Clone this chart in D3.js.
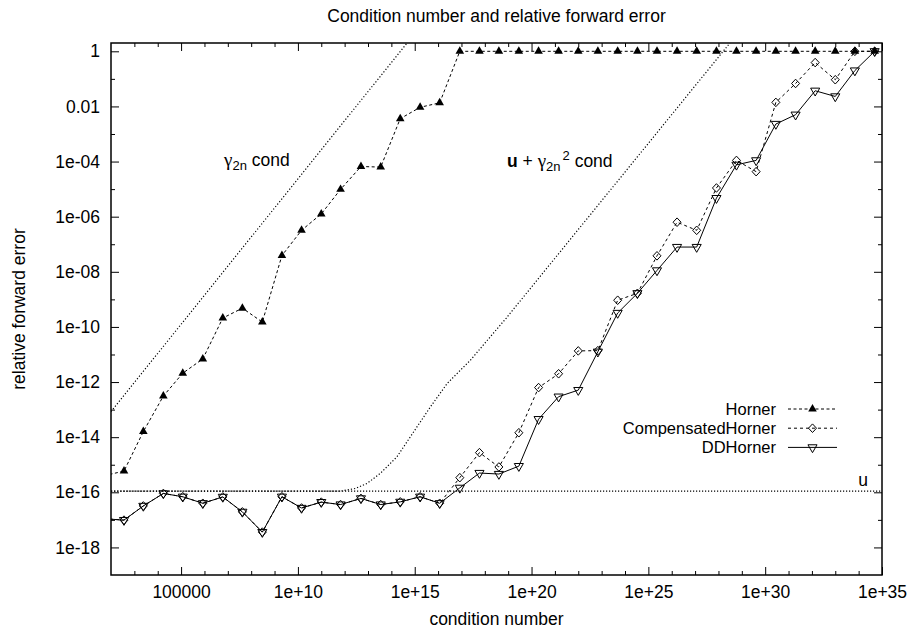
<!DOCTYPE html>
<html>
<head>
<meta charset="utf-8">
<script src="https://cdn.jsdelivr.net/npm/d3@7"></script>
<style>
  body { margin: 0; background: #fff; }
  svg { display: block; font-family: "Liberation Sans", Arial, Helvetica, sans-serif; }
</style>
</head>
<body>
<div id="chart"></div>
<script>
// condition numbers of the test polynomials (first one lies left of the plot range)
const cond = [
  5.1e1, 3.6e2, 2.42e3, 1.74e4, 1.18e5, 8.5e5, 6.1e6, 4.2e7, 3.0e8, 2.07e9,
  1.43e10, 1.0e11, 6.7e11, 5.0e12, 3.5e13, 2.4e14, 1.7e15, 1.17e16, 8.5e16, 5.9e17,
  4.0e18, 2.86e19, 2.0e20, 1.44e21, 1.0e22, 6.9e22, 4.85e23, 3.4e24, 2.34e25, 1.69e26,
  1.17e27, 8.2e27, 5.9e28, 4.1e29, 2.86e30, 2.0e31, 1.38e32, 1.0e33, 6.9e33, 4.85e34
];

const horner = [
  4.0e-16, 5.9e-16, 1.6e-14, 3.1e-13, 2.1e-12, 6.9e-12, 2.1e-10, 4.8e-10, 1.5e-10, 3.9e-8,
  3.2e-7, 1.26e-6, 9.8e-6, 6.6e-5, 6.3e-5, 3.6e-3, 9.3e-3, 1.35e-2, 1, 1,
  1, 1, 1, 1, 1, 1, 1, 1, 1, 1,
  1, 1, 1, 1, 1, 1, 1, 1, 1, 1
];

const compHorner = [
  1.1e-17, 9.8e-18, 3.2e-17, 9.1e-17, 6.9e-17, 4.0e-17, 6.8e-17, 1.95e-17, 3.6e-18, 6.9e-17,
  2.7e-17, 4.4e-17, 3.6e-17, 6.0e-17, 3.6e-17, 4.5e-17, 6.9e-17, 4.0e-17, 3.4e-16, 2.75e-15,
  8.3e-16, 1.45e-14, 6.3e-13, 2.0e-12, 1.35e-11, 1.38e-11, 9.3e-10, 1.66e-9, 3.8e-8, 6.3e-7,
  3.2e-7, 1.1e-5, 1.1e-4, 4.3e-5, 1.4e-2, 6.8e-2, 0.39, 9.3e-2, 1, 1
];

const ddHorner = [
  1.1e-17, 9.8e-18, 3.2e-17, 9.1e-17, 6.9e-17, 4.0e-17, 6.8e-17, 1.95e-17, 3.6e-18, 6.9e-17,
  2.7e-17, 4.4e-17, 3.6e-17, 6.0e-17, 3.6e-17, 4.5e-17, 6.9e-17, 4.0e-17, 1.45e-16, 5.0e-16,
  4.6e-16, 8.9e-16, 4.5e-14, 2.95e-13, 5.1e-13, 1.26e-11, 3.2e-10, 1.66e-9, 1.12e-8, 7.9e-8,
  7.9e-8, 4.7e-6, 7.6e-5, 1.1e-4, 2.3e-3, 5.0e-3, 3.7e-2, 2.3e-2, 0.2, 1
];

// a priori bounds as [cond, error] pairs
const gammaBound = [[1e2, 8.5e-14], [4.7e14, 2]];
const uGammaBound = [
  [1e2, 1.1e-16], [6.5e11, 1.1e-16], [2.9e12, 1.38e-16], [9.1e12, 2.1e-16], [3.4e13, 4.9e-16],
  [1.74e14, 1.95e-15], [9.1e14, 1.58e-14], [4.7e15, 1.26e-13], [2.45e16, 8.9e-13],
  [2.45e17, 6.3e-12], [8.3e18, 2.1e-10], [3.1e28, 2]
];
const unitRoundoff = 1.1e-16;

const xMajorTicks = [1e5, 1e10, 1e15, 1e20, 1e25, 1e30, 1e35];
const xTickLabels = ['100000', '1e+10', '1e+15', '1e+20', '1e+25', '1e+30', '1e+35'];
const yMajorTicks = [1, 1e-2, 1e-4, 1e-6, 1e-8, 1e-10, 1e-12, 1e-14, 1e-16, 1e-18];
const yTickLabels = ['1', '0.01', '1e-04', '1e-06', '1e-08', '1e-10', '1e-12', '1e-14', '1e-16', '1e-18'];

const width = 914, height = 633;
const margin = { top: 43, right: 32, bottom: 58, left: 111 };
const iw = width - margin.left - margin.right;
const ih = height - margin.top - margin.bottom;
const fontSize = 17.5;
const symbolFont = '"Liberation Serif", "Times New Roman", serif';

const svg = d3.select('#chart').append('svg')
  .attr('width', width)
  .attr('height', height)
  .style('font-size', fontSize + 'px');

const g = svg.append('g').attr('transform', `translate(${margin.left},${margin.top})`);

const x = d3.scaleLog().domain([1e2, 1e35]).range([0, iw]);
const y = d3.scaleLog().domain([1e-19, 2]).range([ih, 0]);

// minor ticks: every decade on x, odd decades on y
const xMinorTicks = d3.range(3, 35).filter(e => e % 5 !== 0).map(e => Math.pow(10, e));
const yMinorTicks = d3.range(-17, 0, 2).map(e => Math.pow(10, e));

const major = 8, minor = 4;

function addAxis(axisFn, scale, transform, values, size, labels, padding) {
  const ax = axisFn(scale)
    .tickValues(values)
    .tickSize(-size)
    .tickPadding(padding || 0)
    .tickFormat(labels ? (d, i) => labels[i] : '');
  const sel = g.append('g').attr('transform', transform).call(ax);
  sel.select('.domain').remove();
  sel.selectAll('.tick line').attr('stroke', '#000');
  sel.selectAll('.tick text')
    .attr('fill', '#000')
    .style('font-size', fontSize + 'px')
    .style('font-family', '"Liberation Sans", Arial, Helvetica, sans-serif');
  return sel;
}

addAxis(d3.axisBottom, x, `translate(0,${ih})`, xMajorTicks, major, xTickLabels, 11);
addAxis(d3.axisBottom, x, `translate(0,${ih})`, xMinorTicks, minor);
addAxis(d3.axisTop, x, 'translate(0,0)', xMajorTicks, major);
addAxis(d3.axisTop, x, 'translate(0,0)', xMinorTicks, minor);
addAxis(d3.axisLeft, y, 'translate(0,0)', yMajorTicks, major, yTickLabels, 11);
addAxis(d3.axisLeft, y, 'translate(0,0)', yMinorTicks, minor);
addAxis(d3.axisRight, y, `translate(${iw},0)`, yMajorTicks, major);
addAxis(d3.axisRight, y, `translate(${iw},0)`, yMinorTicks, minor);

svg.append('defs').append('clipPath').attr('id', 'plot-clip')
  .append('rect').attr('width', iw).attr('height', ih);

const plot = g.append('g').attr('clip-path', 'url(#plot-clip)');

const line = d3.line().x(d => x(d[0])).y(d => y(d[1]));

// bounds and unit roundoff
plot.append('path')
  .datum([[1e2, unitRoundoff], [1e35, unitRoundoff]])
  .attr('d', line)
  .attr('fill', 'none').attr('stroke', '#000').attr('stroke-width', 1.1).attr('stroke-dasharray', '1.2,1.8');
[gammaBound, uGammaBound].forEach(b => {
  plot.append('path')
    .datum(b)
    .attr('d', line)
    .attr('fill', 'none').attr('stroke', '#000').attr('stroke-width', 1.2).attr('stroke-dasharray', '1.2,2');
});

// marker shapes
const triUp = d3.symbol().type(d3.symbolTriangle).size(32);
const diamond = 'M0,-4.3L4,0L0,4.3L-4,0Z';
const triDown = d3.symbol().type(d3.symbolTriangle).size(36);

const series = [
  { name: 'Horner', values: horner, dash: '3,2.5', marker: 'triUp' },
  { name: 'CompensatedHorner', values: compHorner, dash: '3,3', marker: 'diamond' },
  { name: 'DDHorner', values: ddHorner, dash: null, marker: 'triDown' }
];

function drawMarker(sel, kind) {
  if (kind === 'triUp') {
    sel.append('path').attr('d', triUp()).attr('fill', '#000');
  } else if (kind === 'diamond') {
    sel.append('path').attr('d', diamond).attr('fill', 'none').attr('stroke', '#000');
  } else {
    sel.append('path').attr('d', triDown()).attr('transform', 'rotate(180)')
      .attr('fill', 'none').attr('stroke', '#000');
  }
}

series.forEach(s => {
  const pts = d3.zip(cond, s.values);
  plot.append('path')
    .datum(pts)
    .attr('d', line)
    .attr('fill', 'none')
    .attr('stroke', '#000')
    .attr('stroke-dasharray', s.dash);
  plot.selectAll(null)
    .data(pts)
    .join('g')
    .attr('transform', d => `translate(${x(d[0])},${y(d[1])})`)
    .each(function () { drawMarker(d3.select(this), s.marker); });
});

// border
g.append('rect')
  .attr('width', iw).attr('height', ih)
  .attr('fill', 'none').attr('stroke', '#000').attr('stroke-width', 1.5);

// legend
const legend = svg.append('g').style('font-size', '16.5px');
series.forEach((s, i) => {
  const cy = 409 + i * 19.2;
  legend.append('text')
    .attr('x', 776).attr('y', cy).attr('dy', '0.35em')
    .attr('text-anchor', 'end')
    .text(s.name);
  legend.append('line')
    .attr('x1', 788).attr('x2', 837).attr('y1', cy).attr('y2', cy)
    .attr('stroke', '#000').attr('stroke-dasharray', s.dash);
  drawMarker(legend.append('g').attr('transform', `translate(812.5,${cy})`), s.marker);
});

// annotations
const gam = svg.append('text').attr('x', 224).attr('y', 166);
gam.append('tspan').style('font-family', symbolFont).style('font-size', '19px').text('γ');
gam.append('tspan').attr('dy', 4).style('font-size', '13px').text('2n');
gam.append('tspan').attr('dy', -4).text(' cond');

const ug = svg.append('text').attr('x', 507).attr('y', 167);
ug.append('tspan').style('font-weight', 'bold').text('u');
ug.append('tspan').text(' + ');
ug.append('tspan').style('font-family', symbolFont).style('font-size', '19px').text('γ');
ug.append('tspan').attr('dy', 4).style('font-size', '13px').text('2n');
ug.append('tspan').attr('dy', -11).attr('dx', 2).style('font-size', '13px').text('2');
ug.append('tspan').attr('dy', 7).text(' cond');

svg.append('text').attr('x', 863).attr('y', 486).attr('text-anchor', 'middle').text('u');

// titles
svg.append('text')
  .attr('x', margin.left + iw / 2).attr('y', 22)
  .attr('text-anchor', 'middle')
  .text('Condition number and relative forward error');
svg.append('text')
  .attr('x', margin.left + iw / 2).attr('y', 625)
  .attr('text-anchor', 'middle')
  .text('condition number');
svg.append('text')
  .attr('transform', `translate(25,${margin.top + ih / 2}) rotate(-90)`)
  .attr('text-anchor', 'middle')
  .text('relative forward error');
</script>
</body>
</html>
